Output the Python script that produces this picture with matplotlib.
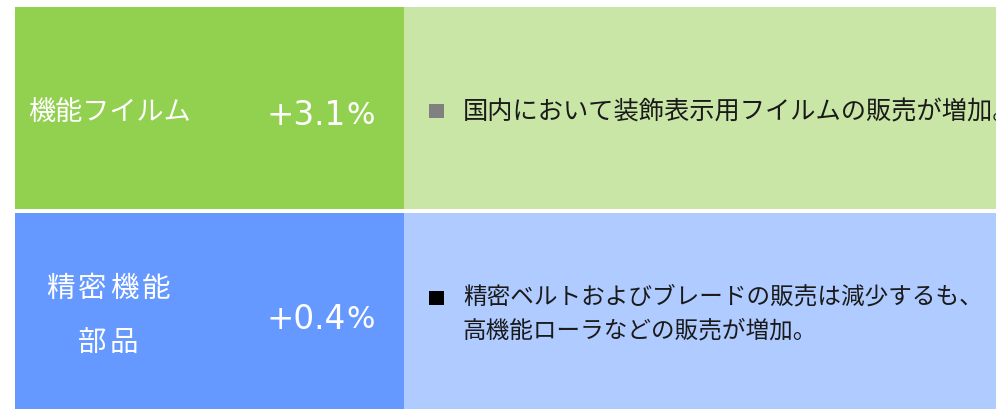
import matplotlib.pyplot as plt
from matplotlib.patches import Rectangle

plt.rcParams['font.family'] = ['Noto Sans CJK JP', 'DejaVu Sans']

# Segment data
segments = [["機能フイルム"], ["精密機能", "部品"]]
growth = [3.1, 0.4]
comments = [
    ["国内において装飾表示用フイルムの販売が増加。"],
    ["精密ベルトおよびブレードの販売は減少するも、", "高機能ローラなどの販売が増加。"],
]
dark_colors = ["#92d050", "#6699ff"]
light_colors = ["#c9e6a7", "#afcbff"]
bullet_colors = ["#808080", "#000000"]

fig = plt.figure(figsize=(9.96, 4.10), dpi=100)
ax = fig.add_axes([0, 0, 1, 1])
ax.set_xlim(0, 996)
ax.set_ylim(410, 0)
ax.axis("off")

row_tops = [8, 213.5]
row_h = [202, 200]
name_y = [[113], [289, 343]]
num_base = [125, 329]
text_y = [[113], [297, 331]]
bullet_y = [105, 292]
text_size = [18.2, 17]

for i in range(len(segments)):
    top = row_tops[i]
    h = row_h[i]
    ax.add_patch(Rectangle((15, top), 389, h, color=dark_colors[i], lw=0))
    ax.add_patch(Rectangle((404, top), 600, h, color=light_colors[i], lw=0))

    # segment name
    if len(segments[i]) == 1:
        ax.text(28, name_y[i][0], segments[i][0], color="white", fontsize=19.5,
                ha="left", va="center")
    else:
        for j, line in enumerate(segments[i]):
            n = len(line)
            for k, ch in enumerate(line):
                ax.text(108 + (k - (n - 1) / 2) * 32, name_y[i][j], ch, color="white",
                        fontsize=20.5, ha="center", va="center")

    # growth rate
    ax.text(267, num_base[i], "+%.1f" % growth[i], color="white", family="DejaVu Sans",
            fontsize=23.5, ha="left", va="baseline")
    ax.text(346, num_base[i] - 1, "%", color="white", family="DejaVu Sans",
            fontsize=21.5, ha="left", va="baseline")

    # comment
    ax.add_patch(Rectangle((429, bullet_y[i]), 15, 14, color=bullet_colors[i], lw=0))
    for j, line in enumerate(comments[i]):
        ax.text(463, text_y[i][j], line, color="#1a1a1a", fontsize=text_size[i],
                ha="left", va="center")

fig.savefig("out.png", dpi=100)
